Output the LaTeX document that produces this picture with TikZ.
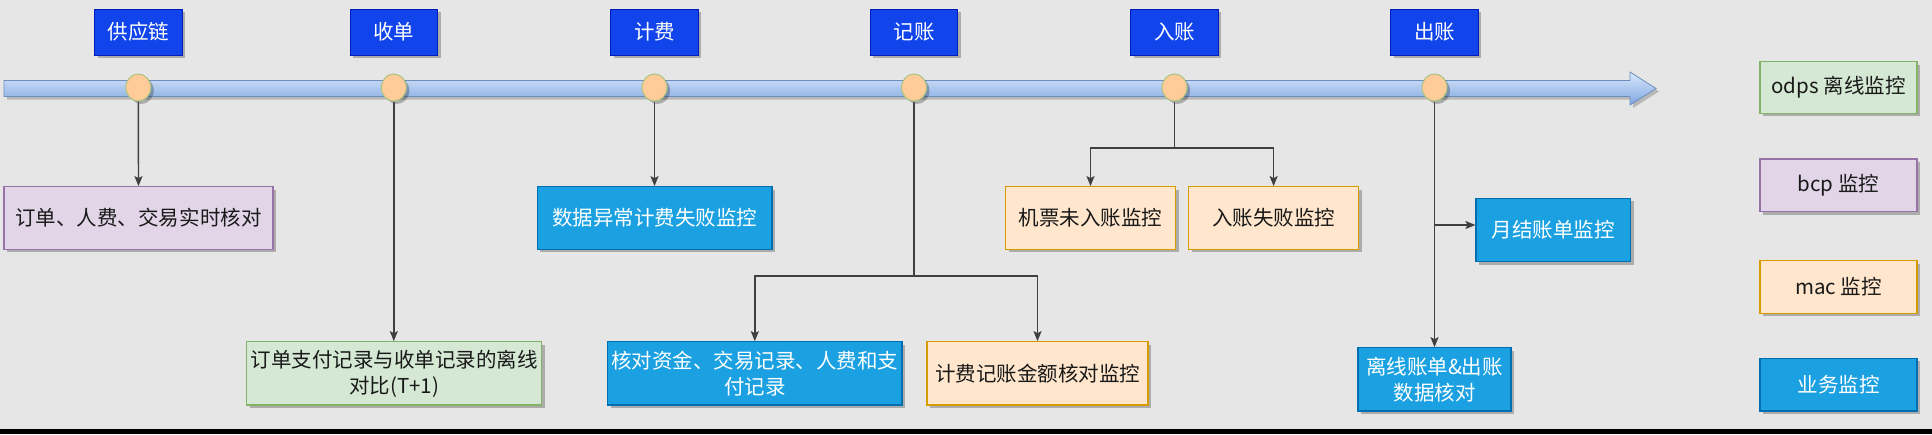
\documentclass[tikz,border=0pt]{standalone}
\usepackage{fontspec}
\setmainfont{Noto Sans CJK SC}
\usetikzlibrary{shadows,arrows.meta,shapes.geometric}
\definecolor{bg}{HTML}{E6E6E6}
\definecolor{stagefill}{HTML}{1145EB}
\definecolor{stageline}{HTML}{001DBC}
\definecolor{bizfill}{HTML}{1BA1E2}
\definecolor{bizline}{HTML}{006EAF}
\definecolor{purfill}{HTML}{E1D5E7}
\definecolor{purline}{HTML}{9673A6}
\definecolor{grnfill}{HTML}{D5E8D4}
\definecolor{grnline}{HTML}{82B366}
\definecolor{orgfill}{HTML}{FFE6CC}
\definecolor{orgline}{HTML}{D79B00}
\definecolor{dotfill}{HTML}{FFCC99}
\definecolor{dotline}{HTML}{A9C47F}
\definecolor{tltop}{HTML}{DAE8FC}
\definecolor{tlbot}{HTML}{7EA6E0}
\definecolor{tlline}{HTML}{6C8EBF}
\newcommand{\fs}{\fontsize{20.5}{26}\selectfont}
\tikzset{
  shad/.style={drop shadow={shadow xshift=3pt, shadow yshift=-3pt, opacity=0.25, fill=black}},
  stagebox/.style={rectangle, fill=stagefill, draw=stageline, line width=0.8pt, text=white,
    minimum width=87.5pt, minimum height=46pt, inner sep=0pt, font=\fs, shad},
  mbox/.style={rectangle, line width=1.2pt, inner sep=0pt, align=center, font=\fs, shad, text=black!90},
  biz/.style={mbox, fill=bizfill, draw=bizline, text=white},
  pur/.style={mbox, fill=purfill, draw=purline},
  grn/.style={mbox, fill=grnfill, draw=grnline},
  org/.style={mbox, fill=orgfill, draw=orgline},
  dot/.style={ellipse, fill=dotfill, draw=dotline, line width=1pt, minimum width=25pt, minimum height=27pt, inner sep=0pt, shad},
  conn/.style={draw=black!75, line width=1.4pt, -{Stealth[length=10pt,width=8pt,inset=2pt]}},
  seg/.style={draw=black!75, line width=1.4pt}
}
\begin{document}
\begin{tikzpicture}[x=1pt,y=-1pt]
\useasboundingbox (0,0) rectangle (1932,434);
\fill[bg] (0,0) rectangle (1932,434);
\fill[black] (0,429) rectangle (1932,434);

% timeline arrow
\fill[black, opacity=0.2] (7,83.5) -- (1633,83.5) -- (1633,75) -- (1659,91.5) -- (1633,108) -- (1633,99.5) -- (7,99.5) -- cycle;
\shade[top color=tltop, bottom color=tlbot, draw=tlline, line width=0.8pt]
  (4,80.5) -- (1630,80.5) -- (1630,72) -- (1656,88.5) -- (1630,105) -- (1630,96.5) -- (4,96.5) -- cycle;

% stages
\node[stagebox] (s1) at (138.3,32) {供应链};
\node[stagebox] (s2) at (393.8,32) {收单};
\node[stagebox] (s3) at (654.5,32) {计费};
\node[stagebox] (s4) at (914,32) {记账};
\node[stagebox] (s5) at (1174.5,32) {入账};
\node[stagebox] (s6) at (1434.5,32) {出账};

% dots
\node[dot] (c1) at (138.3,87.5) {};
\node[dot] (c2) at (393.8,87.5) {};
\node[dot] (c3) at (654.5,87.5) {};
\node[dot] (c4) at (914,87.5) {};
\node[dot] (c5) at (1174.5,87.5) {};
\node[dot] (c6) at (1434.5,87.5) {};

% boxes
\node[pur, minimum width=269pt, minimum height=62.6pt] (b1) at (138.5,218) {订单、人费、交易实时核对};
\node[grn, minimum width=295pt, minimum height=63.3pt] (b2) at (394.3,373.4) {订单支付记录与收单记录的离线\\对比(T+1)};
\node[biz, minimum width=234.7pt, minimum height=62.6pt] (b3) at (654.6,218) {数据异常计费失败监控};
\node[biz, minimum width=294.5pt, minimum height=63.3pt] (b4) at (754.8,373.4) {核对资金、交易记录、人费和支\\付记录};
\node[org, minimum width=221pt, minimum height=63.3pt] (b5) at (1037.5,373.4) {计费记账金额核对监控};
\node[org, minimum width=170pt, minimum height=62.6pt] (b6) at (1090.5,218) {机票未入账监控};
\node[org, minimum width=170pt, minimum height=62.6pt] (b7) at (1273.6,218) {入账失败监控};
\node[biz, minimum width=154.6pt, minimum height=63.4pt] (b8) at (1553.3,230) {月结账单监控};
\node[biz, minimum width=153pt, minimum height=63.3pt] (b9) at (1434.5,379.4) {离线账单\&出账\\数据核对};

% legend
\node[grn, minimum width=157pt, minimum height=51.6pt] (l1) at (1838.5,87.5) {odps 离线监控};
\node[pur, minimum width=157pt, minimum height=52.7pt] (l2) at (1838.5,185.4) {bcp 监控};
\node[org, minimum width=157pt, minimum height=52.3pt] (l3) at (1838.5,287) {mac 监控};
\node[biz, minimum width=157pt, minimum height=52.7pt] (l4) at (1838.5,384.7) {业务监控};

% connectors
\draw[conn] (c1.south) -- (b1.north);
\draw[conn] (c2.south) -- (b2.north -| c2.south);
\draw[conn] (c3.south) -- (b3.north -| c3.south);

\coordinate (j4) at (914,276);
\draw[seg] (c4.south) -- (j4);
\draw[conn] (j4) -| (b4.north);
\draw[conn] (j4) -| (b5.north);

\coordinate (j5) at (1174.5,148);
\draw[seg] (c5.south) -- (j5);
\draw[conn] (j5) -| (b6.north);
\draw[conn] (j5) -| (b7.north);

\coordinate (j6) at (1434.5,225);
\draw[conn] (c6.south) -- (b9.north);
\draw[conn] (j6) -- (j6 -| b8.west);
\end{tikzpicture}
\end{document}
